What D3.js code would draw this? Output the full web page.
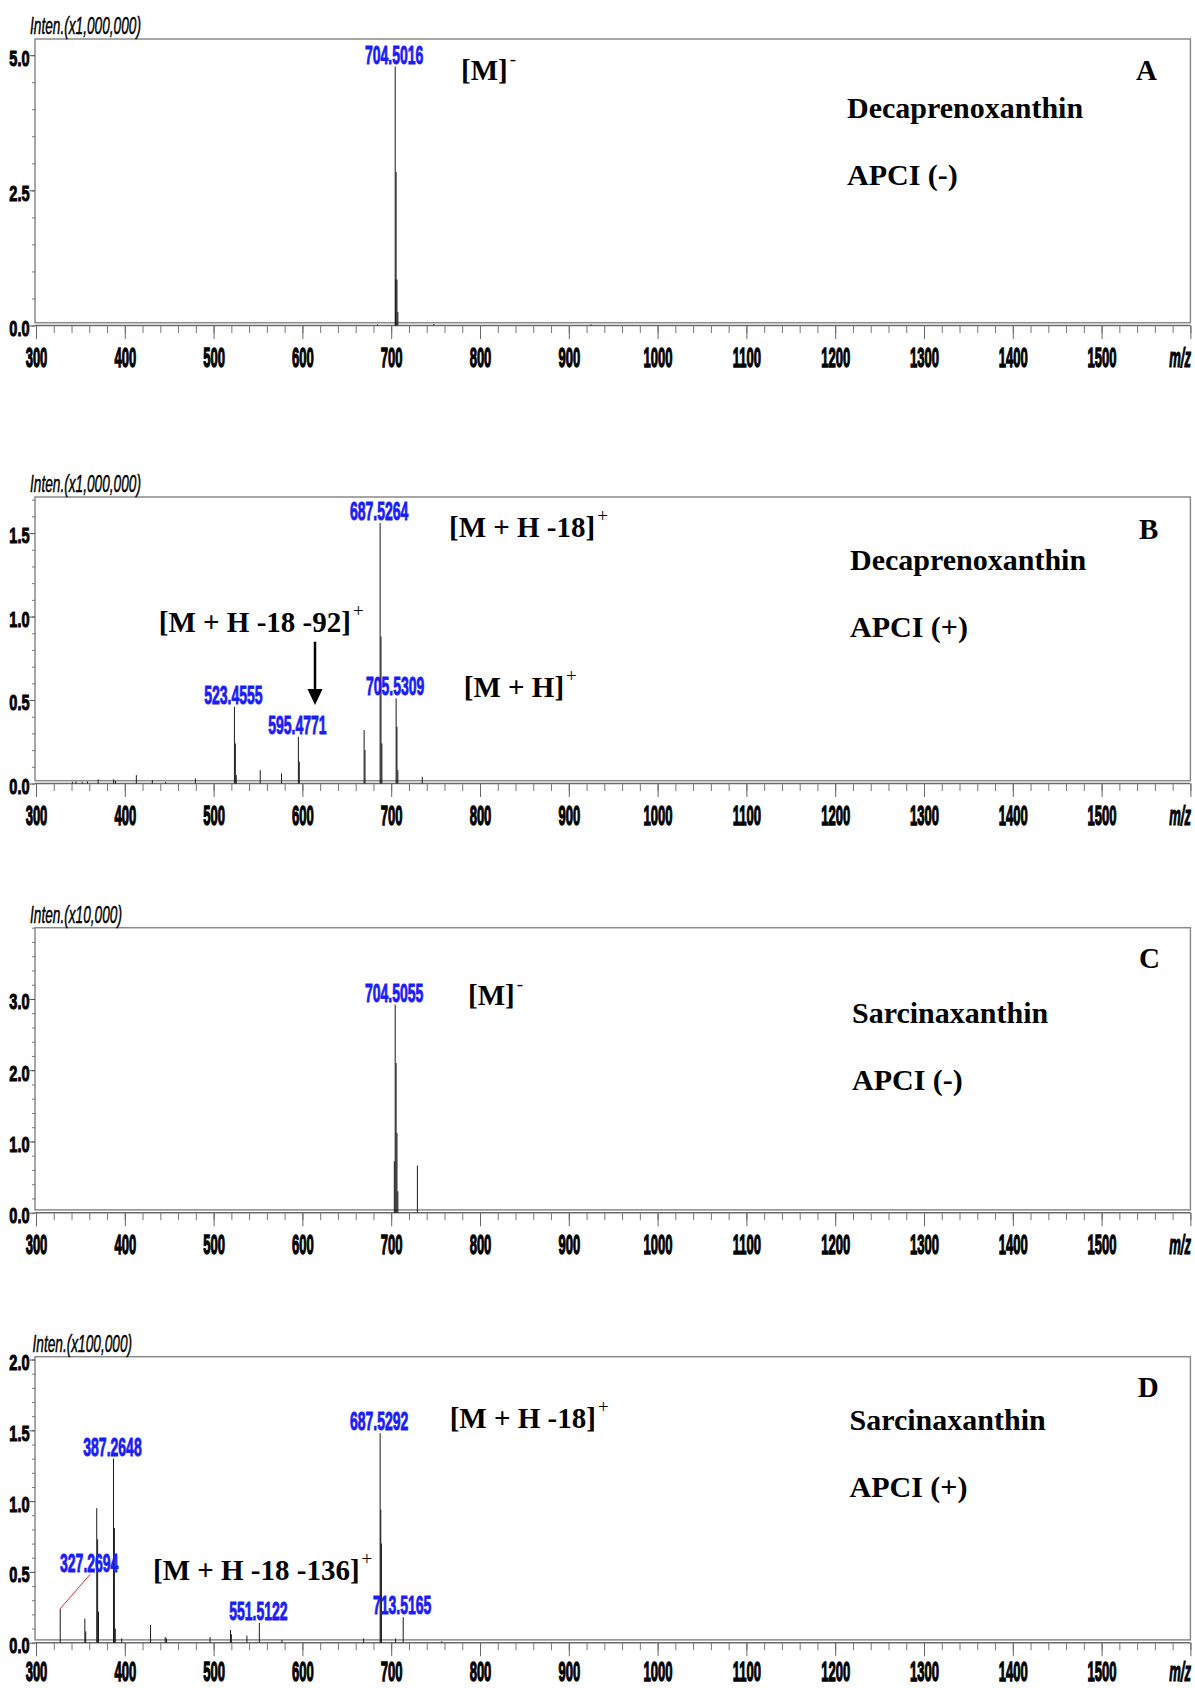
<!DOCTYPE html>
<html><head><meta charset="utf-8">
<script src="https://cdn.jsdelivr.net/npm/d3@7"></script>
<style>body{margin:0;background:#fff} svg{display:block}</style>
</head><body>
<svg id="c" width="1195" height="1688"></svg>
<script>
// ---------------- data ----------------
const xMajorTicks = [300,400,500,600,700,800,900,1000,1100,1200,1300,1400,1500,1600];
const xMinorTicks = d3.range(0, 66).map(i => 300 + i * 20);

const panelLetters = ["A", "B", "C", "D"];
const compounds = ["Decaprenoxanthin", "Decaprenoxanthin", "Sarcinaxanthin", "Sarcinaxanthin"];
const modes = ["APCI (-)", "APCI (+)", "APCI (-)", "APCI (+)"];
const intensityUnits = ["Inten.(x1,000,000)", "Inten.(x1,000,000)", "Inten.(x10,000)", "Inten.(x100,000)"];
const yMaxes = [5.3, 1.716, 4.0, 2.02];
const yLabelTicks = [[0, 2.5, 5.0], [0, 0.5, 1.0, 1.5], [0, 1.0, 2.0, 3.0], [0, 0.5, 1.0, 1.5, 2.0]];
const yMinorSteps = [0.5, 0.1, 0.2, 0.1];

// Panel A: Decaprenoxanthin APCI(-)
const mzA  = [684.6, 704.5016, 705.0, 705.5, 706.5, 707.5, 748.0, 925.0];
const intA = [0.02, 4.79, 0.85, 2.84, 0.85, 0.25, 0.03, 0.02];
const labeledA = [704.5016];

// Panel B: Decaprenoxanthin APCI(+)
const mzB  = [341, 345, 352, 358, 370, 387.5, 389.5, 413, 431, 446, 479.5,
              523.4555, 524.5, 525.5, 552.5, 576.5, 595.4771, 596.5,
              669.5, 670.5, 687.5264, 688.5, 689.5, 705.5309, 706.5, 707.5, 735];
const intB = [0.01, 0.012, 0.01, 0.012, 0.025, 0.025, 0.015, 0.05, 0.02, 0.01, 0.03,
              0.46, 0.24, 0.05, 0.08, 0.06, 0.28, 0.13,
              0.32, 0.20, 1.56, 0.88, 0.24, 0.51, 0.34, 0.08, 0.04];
const labeledB = [523.4555, 595.4771, 687.5264, 705.5309];

// Panel C: Sarcinaxanthin APCI(-)
const mzC  = [703.5, 704.5055, 705.5, 706.5, 707.5, 729.5];
const intC = [0.72, 2.92, 2.10, 1.12, 0.30, 0.66];
const labeledC = [704.5055];

// Panel D: Sarcinaxanthin APCI(+)
const mzD  = [327.2694, 355.0, 356.0, 368.4, 369.4, 370.4, 387.2648, 388.3, 389.3, 396.5,
              429.0, 445.5, 447.0, 496.0, 519.0, 520.0, 537.5, 551.5122, 577.0, 669.0,
              687.5292, 688.3, 689.0, 705.0, 713.5165, 757.0];
const intD = [0.24, 0.17, 0.08, 0.95, 0.73, 0.22, 1.30, 0.81, 0.10, 0.03,
              0.125, 0.04, 0.03, 0.04, 0.09, 0.06, 0.05, 0.14, 0.02, 0.03,
              1.48, 0.94, 0.70, 0.03, 0.18, 0.01];
const labeledD = [327.2694, 387.2648, 551.5122, 687.5292, 713.5165];

const ionLabels = [
  [["[M]", "-"]],
  [["[M + H -18]", "+"], ["[M + H]", "+"], ["[M + H -18 -92]", "+"]],
  [["[M]", "-"]],
  [["[M + H -18]", "+"], ["[M + H -18 -136]", "+"]]
];

// ---------------- layout ----------------
const layout = [
  {top: 39,    zero: 325.5, ions: [[461, 80]], letter: [1136, 80], comp: [847, 118], mode: [847, 185], unitX: 30},
  {top: 497,   zero: 783.5, ions: [[449, 536.7], [463.8, 696.7], [158.8, 631.7]], letter: [1139, 539], comp: [850, 570], mode: [850, 636.7], unitX: 30,
   arrow: [315, 641.7, 705]},
  {top: 927.7, zero: 1212.7, ions: [[468, 1005]], letter: [1139, 968.3], comp: [852, 1023.3], mode: [852, 1090], unitX: 30},
  {top: 1356.7, zero: 1642.7, ions: [[449.7, 1428], [153, 1580]], letter: [1137.7, 1396.7], comp: [849.5, 1430], mode: [849.5, 1496.7], unitX: 32.5,
   labelOffset: {"327.2694": [29, -37]}}
];
const series = [[mzA, intA, labeledA], [mzB, intB, labeledB], [mzC, intC, labeledC], [mzD, intD, labeledD]];

const SANS = "'Liberation Sans', Arial, sans-serif";
const SERIF = "'Liberation Serif', 'Times New Roman', serif";
const BLUE = "#1c1cf5";

const svg = d3.select("#c");
const x = d3.scaleLinear().domain([300, 1600]).range([36, 1190.4]);

layout.forEach((L, pi) => {
  const [mz, inten, labeled] = series[pi];
  const y = d3.scaleLinear().domain([0, yMaxes[pi]]).range([L.zero, L.top]);
  const g = svg.append("g");
  const labelBase = Math.min(41.5, 1681 - L.zero);

  // frame
  g.append("rect").attr("x", 35).attr("y", L.top).attr("width", 1155.4).attr("height", L.zero - 2.8 - L.top)
    .attr("fill", "none").attr("stroke", "#8a8a8a").attr("stroke-width", 1.5);
  g.append("line").attr("x1", 35).attr("x2", 1190.4).attr("y1", L.zero).attr("y2", L.zero)
    .attr("stroke", "#6a6a6a").attr("stroke-width", 1.5);

  // x axis minor + major
  const gxMinor = g.append("g").attr("transform", `translate(0,${L.zero})`)
    .call(d3.axisBottom(x).tickValues(xMinorTicks).tickSize(7.5).tickFormat(""));
  gxMinor.select(".domain").remove();
  gxMinor.selectAll(".tick line").attr("stroke", "#777");
  const gx = g.append("g").attr("transform", `translate(0,${L.zero})`)
    .call(d3.axisBottom(x).tickValues(xMajorTicks).tickSize(13.5).tickFormat(d => d < 1600 ? d : ""));
  gx.select(".domain").remove();
  gx.selectAll(".tick line").attr("stroke", "#666");
  gx.selectAll(".tick text").attr("y", labelBase).attr("dy", null)
    .attr("transform", "scale(0.465,1)")
    .attr("font-family", SANS).attr("font-weight", "bold").attr("font-size", 28).attr("fill", "#000")
    .attr("stroke", "#000").attr("stroke-width", 1.3);
  g.append("text").attr("transform", `translate(1191,${L.zero + labelBase}) scale(0.465,1)`)
    .attr("text-anchor", "end").attr("font-family", SANS).attr("font-weight", "bold")
    .attr("font-style", "italic").attr("font-size", 28).attr("stroke", "#000").attr("stroke-width", 1.1).text("m/z");

  // y axis
  const nMinor = Math.round(yMaxes[pi] / yMinorSteps[pi] + 1e-6);
  const yMinor = d3.range(0, nMinor + 1).map(i => +(i * yMinorSteps[pi]).toFixed(3));
  const gyMinor = g.append("g").attr("transform", "translate(35,0)")
    .call(d3.axisLeft(y).tickValues(yMinor).tickSize(3).tickFormat(""));
  gyMinor.select(".domain").remove();
  gyMinor.selectAll(".tick line").attr("stroke", "#777");
  const gy = g.append("g").attr("transform", "translate(35,0)")
    .call(d3.axisLeft(y).tickValues(yLabelTicks[pi]).tickSize(5.6).tickFormat(d3.format(".1f")));
  gy.select(".domain").remove();
  gy.selectAll(".tick line").attr("stroke", "#555");
  gy.selectAll(".tick text").attr("x", 0).attr("dy", "0.45em")
    .attr("transform", "translate(-5.5,0) scale(0.66,1)")
    .attr("font-family", SANS).attr("font-weight", "bold").attr("font-size", 22).attr("fill", "#000")
    .attr("stroke", "#000").attr("stroke-width", 1.0);

  // intensity unit label
  g.append("text").attr("transform", `translate(${L.unitX},${L.top - 5}) scale(0.57,1)`)
    .attr("font-family", SANS).attr("font-style", "italic").attr("font-size", 24)
    .attr("stroke", "#000").attr("stroke-width", 0.5).text(intensityUnits[pi]);

  // spectrum sticks
  const pts = mz.map((m, i) => ({mz: m, v: inten[i]}));
  g.append("g").selectAll("line").data(pts).join("line")
    .attr("x1", d => x(d.mz)).attr("x2", d => x(d.mz))
    .attr("y1", y(0)).attr("y2", d => y(d.v))
    .attr("stroke", "#1a1a1a").attr("stroke-width", 1);

  // peak labels
  labeled.forEach(m => {
    const v = inten[mz.indexOf(m)];
    const custom = L.labelOffset && L.labelOffset[String(m)];
    const off = custom || [-1, -3];
    const lx = x(m) + off[0], ly = y(v) + off[1];
    if (custom) {
      g.append("line").attr("x1", x(m)).attr("y1", y(v)).attr("x2", lx + 1).attr("y2", ly + 2.5)
        .attr("stroke", "#e03030").attr("stroke-width", 1);
    }
    g.append("text").attr("transform", `translate(${lx},${ly}) scale(0.56,1)`)
      .attr("text-anchor", "middle").attr("font-family", SANS).attr("font-weight", "bold")
      .attr("font-size", 25).attr("fill", BLUE).attr("stroke", BLUE).attr("stroke-width", 0.9)
      .text(m.toFixed(4));
  });

  // ion annotations
  ionLabels[pi].forEach((ion, k) => {
    const [ax, ay] = L.ions[k];
    const t = g.append("text").attr("x", ax).attr("y", ay)
      .attr("font-family", SERIF).attr("font-weight", "bold").attr("font-size", 29);
    t.append("tspan").text(ion[0]);
    t.append("tspan").attr("dx", 2).attr("dy", -15).attr("font-size", 19).attr("font-weight", "normal").text(ion[1]);
  });

  // arrow
  if (L.arrow) {
    const [axp, y1, y2] = L.arrow;
    g.append("line").attr("x1", axp).attr("x2", axp).attr("y1", y1).attr("y2", y2 - 14)
      .attr("stroke", "#000").attr("stroke-width", 2.5);
    g.append("path").attr("d", `M${axp - 7.5},${y2 - 16}L${axp + 7.5},${y2 - 16}L${axp},${y2}Z`).attr("fill", "#000");
  }

  // panel texts
  g.append("text").attr("x", L.letter[0]).attr("y", L.letter[1])
    .attr("font-family", SERIF).attr("font-weight", "bold").attr("font-size", 29).text(panelLetters[pi]);
  g.append("text").attr("x", L.comp[0]).attr("y", L.comp[1])
    .attr("font-family", SERIF).attr("font-weight", "bold").attr("font-size", 30).text(compounds[pi]);
  g.append("text").attr("x", L.mode[0]).attr("y", L.mode[1])
    .attr("font-family", SERIF).attr("font-weight", "bold").attr("font-size", 30).text(modes[pi]);
});
</script>
</body></html>
